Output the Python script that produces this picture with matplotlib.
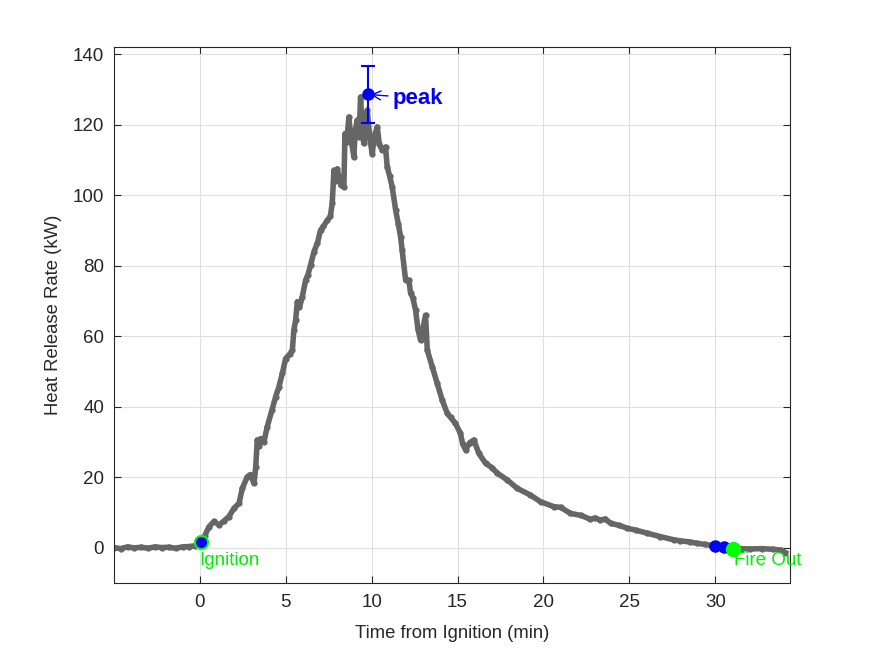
import matplotlib.pyplot as plt

plt.rcParams['font.family'] = ['Liberation Sans', 'DejaVu Sans']

# heat release rate curve (min, kW)
time_min = [-5.0, -4.6, -4.2, -3.8, -3.4, -3.0, -2.6, -2.2, -1.8, -1.4, -1.0, -0.6, -0.3, 0.0,
            0.3, 0.54, 0.83, 1.12, 1.4, 1.7, 1.99, 2.29, 2.48, 2.77, 2.95, 3.16, 3.26, 3.35, 3.45,
            3.55, 3.74, 3.93, 4.2, 4.42, 4.6, 4.81, 5.0, 5.25, 5.39, 5.48, 5.58, 5.68, 5.8,
            5.97, 6.16, 6.3, 6.45, 6.65, 6.85, 7.03, 7.2, 7.42, 7.6, 7.71, 7.81, 7.9, 8.0, 8.1,
            8.2, 8.39, 8.45, 8.55, 8.68, 8.8, 8.97, 9.05, 9.17, 9.27, 9.36, 9.45, 9.55, 9.65,
            9.75, 9.9, 10.04, 10.15, 10.33, 10.45, 10.62, 10.81, 10.91, 11.05, 11.2, 11.4,
            11.55, 11.69, 11.78, 11.98, 12.17, 12.27, 12.4, 12.56, 12.7, 12.85, 13.0, 13.14,
            13.24, 13.53, 13.82, 14.11, 14.4, 14.6, 14.88, 15.17, 15.3, 15.47, 15.7, 15.95,
            16.24, 16.63, 17.0, 17.31, 17.89, 18.47, 19.24, 19.83, 20.6, 21.0, 21.57, 22.2,
            22.73, 23.0, 23.3, 23.6, 23.9, 24.4, 24.87, 25.4, 26.03, 26.8, 27.58, 27.97, 28.5,
            28.94, 29.4, 29.96, 30.48, 31.03, 31.5, 32.0, 32.7, 33.37, 33.8, 34.07]
hrr_kw = [0.1, -0.2, 0.3, 0.0, 0.2, -0.1, 0.3, 0.1, 0.2, -0.1, 0.3, 0.4, 0.6, 1.5,
          3.5, 6.0, 7.5, 6.5, 7.6, 8.9, 11.2, 12.7, 16.9, 20.2, 20.8, 18.3, 23.0, 30.6, 28.8,
          31.0, 30.1, 34.4, 39.0, 42.9, 45.5, 49.5, 53.7, 55.0, 56.1, 61.8, 64.5, 69.8, 68.2,
          71.2, 75.9, 77.5, 80.2, 84.0, 86.5, 90.1, 91.2, 92.9, 94.0, 97.7, 107.1, 104.0, 107.5,
          105.2, 103.0, 102.4, 117.5, 115.0, 122.2, 116.0, 110.9, 118.5, 121.3, 116.5, 127.9,
          118.0, 114.7, 121.0, 124.1, 116.0, 111.8, 116.5, 119.4, 114.5, 112.8, 113.7, 108.0,
          105.5, 102.4, 95.8, 92.0, 88.2, 84.4, 75.9, 75.9, 72.2, 71.0, 67.4, 62.0, 58.9,
          62.5, 66.0, 56.1, 51.4, 46.7, 41.9, 38.2, 37.0, 35.3, 32.5, 29.5, 27.8, 29.8,
          30.6, 26.8, 24.0, 22.8, 21.2, 19.3, 16.9, 15.0, 13.1, 11.7, 11.5, 9.8, 9.2,
          8.1, 8.5, 7.9, 8.2, 7.0, 6.4, 5.6, 5.0, 4.2, 3.2, 2.3, 2.0, 1.7,
          1.3, 1.0, 0.6, 0.4, -0.4, -0.2, -0.3, -0.2, -0.4, -0.6, -1.3]

ignition = (0.06, 1.8)
fire_out = (31.03, -0.4)
end_pts_t = [30.0, 30.48]
end_pts_v = [0.6, 0.4]
peak = (9.77, 128.6)
peak_err = 8.0

fig = plt.figure(figsize=(8.75, 6.56), dpi=100)
ax = fig.add_axes([0.13, 0.111, 0.773, 0.817])

ax.plot(time_min, hrr_kw, '-', color='#666666', lw=4, marker='.', ms=7,
        solid_joinstyle='round', zorder=2)

ax.plot(*ignition, 'o', color='blue', mec='#00ff00', mew=1.5, ms=9.5, zorder=4)
ax.plot(end_pts_t, end_pts_v, 'o', color='blue', ms=8, zorder=4)
ax.plot(*fire_out, 'o', color='#00ff00', ms=10, zorder=5)

ax.errorbar(peak[0], peak[1], yerr=peak_err, fmt='o', color='blue', ms=8,
            capsize=5, elinewidth=1.5, capthick=1.5, zorder=5)
ax.annotate('peak', xy=peak, xytext=(11.2, 127.6), color='blue', fontsize=16,
            fontweight='bold', va='center', ha='left',
            arrowprops=dict(arrowstyle='->', color='blue', lw=1, shrinkA=1, shrinkB=2))

ax.text(0.0, -1.2, 'Ignition', color='#00ee00', fontsize=13.5, va='top', ha='left')
ax.text(31.1, -1.2, 'Fire Out', color='#00ee00', fontsize=13.5, va='top', ha='left')

ax.set_xlim(-5, 34.35)
ax.set_ylim(-10, 142)
ax.set_xticks([0, 5, 10, 15, 20, 25, 30])
ax.set_yticks(range(0, 141, 20))
ax.grid(True, color='#dfdfdf', lw=0.8)
ax.set_axisbelow(True)
ax.tick_params(direction='in', top=True, right=True, labelsize=13.5, colors='#262626',
               length=5)
ax.tick_params(axis='y', pad=7)
ax.tick_params(axis='x', pad=8)
for s in ax.spines.values():
    s.set_color('#262626')
ax.set_xlabel('Time from Ignition (min)', fontsize=13.3, color='#262626', labelpad=10)
ax.set_ylabel('Heat Release Rate (kW)', fontsize=13.3, color='#262626', labelpad=8)

fig.savefig('out.png', dpi=100)
